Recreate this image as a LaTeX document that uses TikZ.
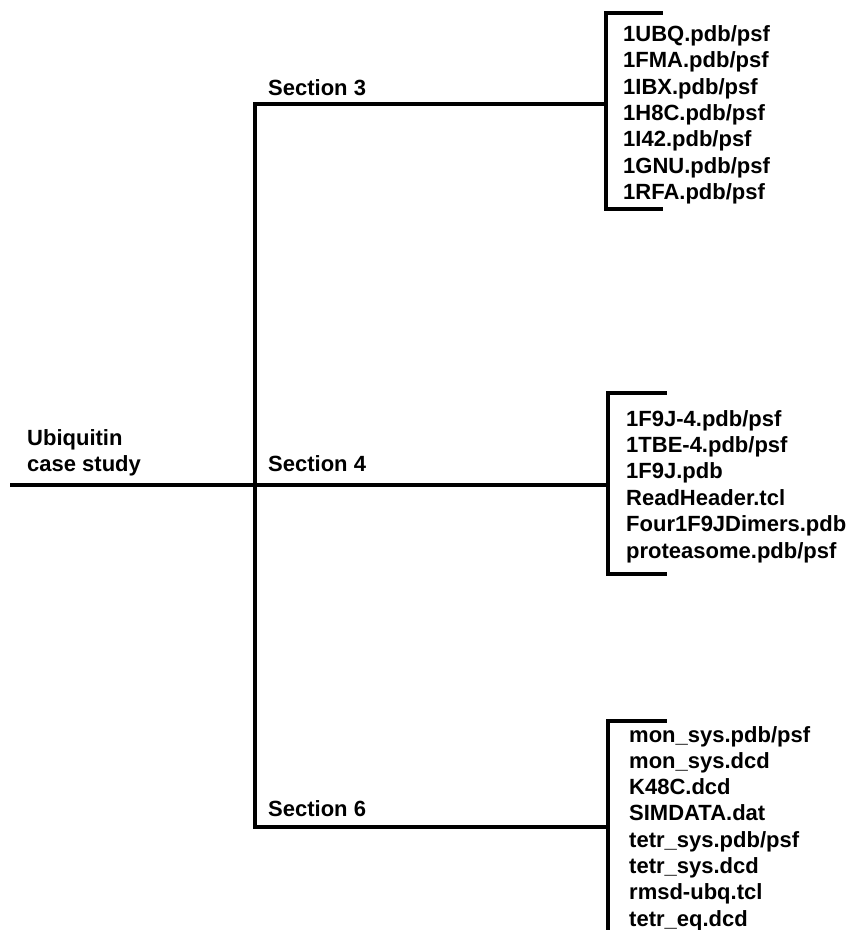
\documentclass[tikz,border=0pt]{standalone}
\usepackage{fontspec}
\setmainfont{Liberation Sans}
\begin{document}
\begin{tikzpicture}[x=1pt,y=-1pt,
  lbl/.style={inner sep=0pt,anchor=base west,font=\fontsize{22}{26.3}\selectfont\bfseries},
  tree/.style={line width=4.2pt,line join=miter,line cap=rect}]
\path[use as bounding box] (0,0) rectangle (847,930);
\clip (0,0) rectangle (847,930);
% root label
\node[lbl] (root1) at (27,445) {Ubiquitin};
\node[lbl] (root2) at (27,471) {case study};
% section labels
\node[lbl] (s3) at (268,95) {Section 3};
\node[lbl] (s4) at (268,471) {Section 4};
\node[lbl] (s6) at (268,816) {Section 6};
% tree coordinates
\coordinate (start) at (12,485);
\coordinate (j4) at (255,485);
\coordinate (j3) at (255,104);
\coordinate (j6) at (255,827);
\coordinate (b3) at (606,104);
\coordinate (b4) at (608,485);
\coordinate (b6) at (608,827);
% brackets
\coordinate (b3t) at (606,13);  \coordinate (b3tr) at (661,13);
\coordinate (b3b) at (606,209); \coordinate (b3br) at (661,209);
\coordinate (b4t) at (608,393); \coordinate (b4tr) at (665,393);
\coordinate (b4b) at (608,574); \coordinate (b4br) at (665,574);
\coordinate (b6t) at (608,721); \coordinate (b6tr) at (665,721);
\coordinate (b6b) at (608,945);
% lines
\draw[tree] (start) -- (j4) -- (b4);
\draw[tree] (b3) -- (j3) -- (j6) -- (b6);
\draw[tree] (b3tr) -- (b3t) -- (b3b) -- (b3br);
\draw[tree] (b4tr) -- (b4t) -- (b4b) -- (b4br);
\draw[tree] (b6tr) -- (b6t) -- (b6b);
% file lists
\foreach \t [count=\i] in {1UBQ.pdb/psf,1FMA.pdb/psf,1IBX.pdb/psf,1H8C.pdb/psf,1I42.pdb/psf,1GNU.pdb/psf,1RFA.pdb/psf}
  \node[lbl] (fa\i) at (623,{41.5+26.35*(\i-1)}) {\t};
\foreach \t [count=\i] in {1F9J-4.pdb/psf,1TBE-4.pdb/psf,1F9J.pdb,ReadHeader.tcl,Four1F9JDimers.pdb,proteasome.pdb/psf}
  \node[lbl] (fb\i) at (626,{426+26.4*(\i-1)}) {\t};
\foreach \t [count=\i] in {mon\_sys.pdb/psf,mon\_sys.dcd,K48C.dcd,SIMDATA.dat,tetr\_sys.pdb/psf,tetr\_sys.dcd,rmsd-ubq.tcl,tetr\_eq.dcd}
  \node[lbl] (fc\i) at (629,{742+26.3*(\i-1)}) {\t};
\end{tikzpicture}
\end{document}
